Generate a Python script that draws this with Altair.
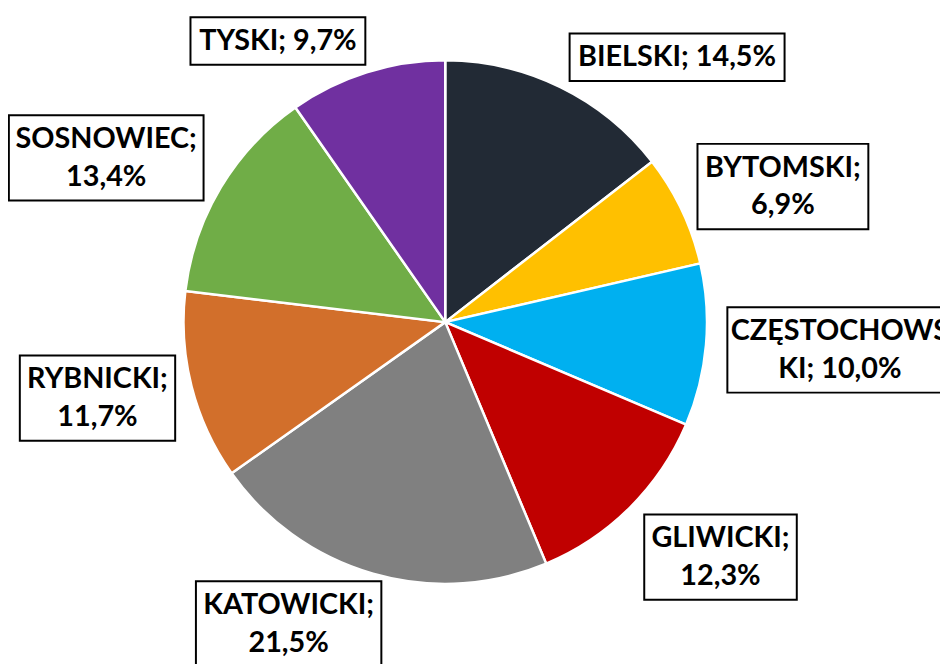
import math
import altair as alt
import pandas as pd

# ---------------- data ----------------
categories = ["BIELSKI", "BYTOMSKI", "CZĘSTOCHOWSKI", "GLIWICKI",
              "KATOWICKI", "RYBNICKI", "SOSNOWIEC", "TYSKI"]
shares = [14.5, 6.9, 10.0, 12.3, 21.5, 11.7, 13.4, 9.7]
colors = ["#222A35", "#FFC000", "#00B0F0", "#C00000",
          "#808080", "#D26F2B", "#70AD47", "#7030A0"]
# how each data label wraps: None = one line, ";" = after the semicolon, int = after n characters
label_wrap = [None, ";", 11, ";", ";", ";", ";", None]

# ---------------- layout ----------------
W, H = 940, 656
CX, CY, R = 441, 314, 264
label_dist = [355, 367, 399, 365, 343, 359, 380, 330]      # distance of label box centre from pie centre
label_turn = [15.1, 3.5, -1.0, -4.7, 11.4, 1.9, -5.1, -13.3]  # angular shift from slice middle (deg)
FONT_SIZE = 29
LINE_H = 38
PAD_X = 10
PAD_Y = 5

# approximate advance widths (Calibri-bold-like units / 2048)
CHAR_UNITS = {
    "A": 1255, "B": 1150, "C": 1078, "E": 1003, "Ę": 1003, "G": 1292, "H": 1290,
    "I": 546, "K": 1137, "L": 864, "M": 1741, "N": 1346, "O": 1380, "R": 1150,
    "S": 970, "T": 1008, "W": 1826, "Y": 1060, "Z": 978, ";": 548, ",": 511,
    " ": 463, "%": 1474,
}


def text_width(s):
    units = sum(CHAR_UNITS.get(ch, 1038) for ch in s)
    return units / 2048 * 32.7


def make_label(name, share, wrap):
    txt = f"{name}; {share:.1f}".replace(".", ",") + "%"
    if wrap is None:
        return txt
    if wrap == ";":
        a, b = txt.split("; ", 1)
        return a + ";\n" + b
    return txt[:wrap] + "\n" + txt[wrap:]


total = sum(shares)
rows = []
cum = 0.0
for i, (name, v) in enumerate(zip(categories, shares)):
    mid = (cum + v / 2) / total * 360.0
    cum += v
    ang = math.radians(mid + label_turn[i])
    lx = CX + label_dist[i] * math.sin(ang)
    ly = CY - label_dist[i] * math.cos(ang)
    label = make_label(name, v, label_wrap[i])
    lines = label.split("\n")
    bw = max(text_width(l) for l in lines) + 2 * PAD_X
    bh = len(lines) * LINE_H + 2 * PAD_Y
    rows.append(dict(cat=name, share=v, order=i, cx=CX, cy=CY,
                     label=label, lx=lx, ly=ly,
                     ty=ly - (len(lines) - 1) * LINE_H / 2,
                     bx=lx - bw / 2, bx2=lx + bw / 2,
                     by=ly - bh / 2, by2=ly + bh / 2))

df = pd.DataFrame(rows)

xs = alt.Scale(domain=[0, W], nice=False, zero=False)
ys = alt.Scale(domain=[0, H], nice=False, zero=False, reverse=True)

base = alt.Chart(df)

pie = base.mark_arc(radius=R, stroke="white", strokeWidth=2.5).encode(
    theta=alt.Theta("share:Q", stack=True),
    order=alt.Order("order:Q"),
    color=alt.Color("cat:N", scale=alt.Scale(domain=categories, range=colors), legend=None),
    x=alt.X("cx:Q", scale=xs, axis=None),
    y=alt.Y("cy:Q", scale=ys, axis=None),
)

boxes = base.mark_rect(fill="white", stroke="black", strokeWidth=2).encode(
    x=alt.X("bx:Q", scale=xs, axis=None),
    x2="bx2:Q",
    y=alt.Y("by:Q", scale=ys, axis=None),
    y2="by2:Q",
)

texts = base.mark_text(
    font="Lato", fontWeight="bold", fontSize=FONT_SIZE, lineBreak="\n",
    lineHeight=LINE_H, align="center", baseline="middle", color="black",
).encode(
    x=alt.X("lx:Q", scale=xs, axis=None),
    y=alt.Y("ty:Q", scale=ys, axis=None),
    text="label:N",
)

chart = alt.layer(pie, boxes, texts).properties(
    width=W, height=H, padding=0, autosize="none",
).configure_view(stroke=None)

chart.save("out.html", embed_options={"renderer": "svg", "actions": False})
